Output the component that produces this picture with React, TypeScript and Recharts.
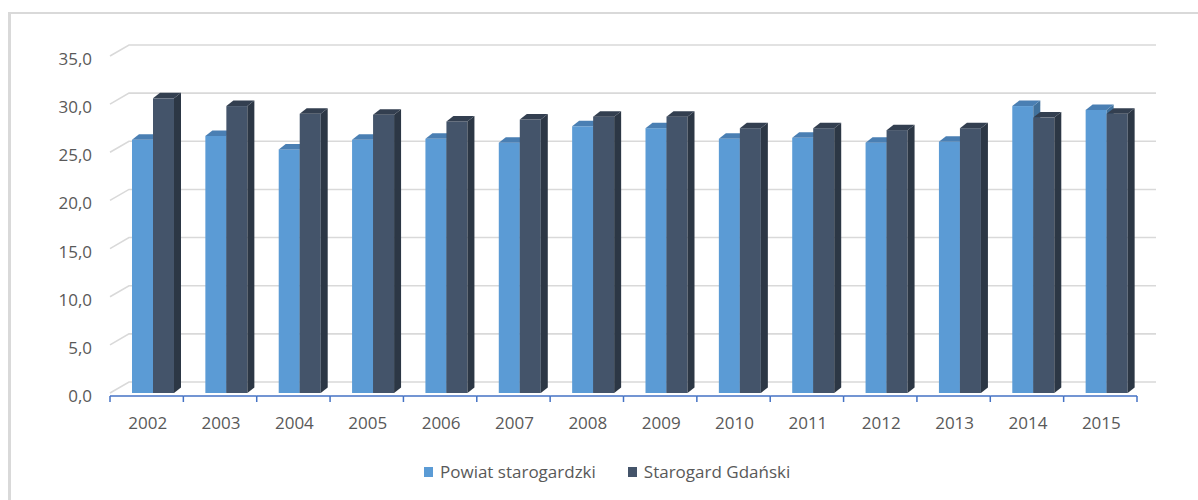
import React from 'react';
import { BarChart, Bar, XAxis, YAxis, CartesianGrid } from 'recharts';

const years = ['2002', '2003', '2004', '2005', '2006', '2007', '2008', '2009', '2010', '2011', '2012', '2013', '2014', '2015'];
const powiat = [26.3, 26.7, 25.3, 26.3, 26.4, 26.0, 27.7, 27.5, 26.4, 26.5, 26.0, 26.1, 29.8, 29.4];
const starogard = [30.6, 29.8, 29.0, 28.9, 28.2, 28.4, 28.7, 28.7, 27.5, 27.5, 27.3, 27.5, 28.6, 29.0];
const yTicks = [0, 5, 10, 15, 20, 25, 30, 35];
const seriesNames = ['Powiat starogardzki', 'Starogard Gdański'];

const data = years.map((y, i) => ({ year: y, powiat: powiat[i], starogard: starogard[i] }));

const W = 1198;
const H = 500;
const M_TOP = 56;
const Y_W = 110;
const M_RIGHT = 61;
const X_H = 107;
const PLOT_LEFT = Y_W;
const PLOT_RIGHT = W - M_RIGHT;
const PLOT_BOTTOM = H - X_H;
const BW = (PLOT_RIGHT - PLOT_LEFT) / years.length;
const WALL_DX = 19;
const WALL_DY = 11;
const BAR_DX = 7;
const BAR_DY = 5.5;
const SHIFT = 6;
const FONT = '"Open Sans", sans-serif';
const TEXT = '#595959';

const COLORS = [
  { front: '#5B9BD5', side: '#41719C', top: '#4A7FB3' },
  { front: '#44546A', side: '#2C3745', top: '#333F50' },
];

const make3D = (c: { front: string; side: string; top: string }) => (props: any) => {
  const { x, y, width, height } = props;
  if (width == null || height == null) return <g />;
  const x0 = x + SHIFT;
  const x1 = x0 + width;
  const yb = y + height;
  return (
    <g>
      <rect x={x0} y={y} width={width} height={height} fill={c.front} />
      <polygon
        points={`${x1},${y} ${x1 + BAR_DX},${y - BAR_DY} ${x1 + BAR_DX},${yb - BAR_DY} ${x1},${yb}`}
        fill={c.side}
      />
      <polygon
        points={`${x0},${y} ${x0 + BAR_DX},${y - BAR_DY} ${x1 + BAR_DX},${y - BAR_DY} ${x1},${y}`}
        fill={c.top}
      />
    </g>
  );
};

const gridLine = (p: any) => {
  const { x1, x2, y1 } = p;
  return (
    <path
      key={p.key}
      d={`M${x1},${y1} L${x1 + WALL_DX},${y1 - WALL_DY} L${x2 + WALL_DX},${y1 - WALL_DY}`}
      stroke="#D9D9D9"
      strokeWidth={1.6}
      fill="none"
    />
  );
};

const XTick = (props: any) => {
  const { x, payload, index } = props;
  const ya = PLOT_BOTTOM + 3;
  return (
    <g>
      <line x1={x - BW / 2} x2={x + BW / 2} y1={ya} y2={ya} stroke="#4472C4" strokeWidth={1.5} />
      <line x1={x - BW / 2} x2={x - BW / 2} y1={ya} y2={ya + 6} stroke="#4472C4" strokeWidth={1.5} />
      {index === years.length - 1 && (
        <line x1={x + BW / 2} x2={x + BW / 2} y1={ya} y2={ya + 6} stroke="#4472C4" strokeWidth={1.5} />
      )}
      <text x={x + 1} y={PLOT_BOTTOM + 30} dy="0.35em" textAnchor="middle" fill={TEXT} fontSize={17} fontFamily={FONT}>
        {payload.value}
      </text>
    </g>
  );
};

const YTick = (props: any) => {
  const { y, payload } = props;
  return (
    <text x={PLOT_LEFT - 18} y={y + 3} dy="0.35em" textAnchor="end" fill={TEXT} fontSize={17} fontFamily={FONT}>
      {payload.value.toFixed(1).replace('.', ',')}
    </text>
  );
};

export default function App() {
  return (
    <div style={{ position: 'absolute', left: 0, top: 0, width: W, height: H, background: '#fff', overflow: 'hidden', fontFamily: FONT }}>
      <div style={{ position: 'absolute', left: 8, top: 12, width: W - 8, height: 1.5, background: '#D9D9D9' }} />
      <div style={{ position: 'absolute', left: 8, top: 12, width: 3, height: H - 12, background: '#D9D9D9' }} />
      <div style={{ position: 'absolute', left: 0, top: 0 }}>
        <BarChart
          width={W}
          height={H}
          data={data}
          margin={{ top: M_TOP, right: M_RIGHT, left: 0, bottom: 0 }}
          barGap={0}
          barSize={21}
        >
          <CartesianGrid vertical={false} horizontal={gridLine} />
          <XAxis dataKey="year" height={X_H} axisLine={false} tickLine={false} tick={(p: any) => <XTick {...p} />} interval={0} />
          <YAxis
            width={Y_W}
            domain={[0, 35]}
            ticks={yTicks}
            axisLine={false}
            tickLine={false}
            tickSize={0}
            tick={(p: any) => <YTick {...p} />}
          />
          <Bar dataKey="powiat" name={seriesNames[0]} fill={COLORS[0].front} shape={make3D(COLORS[0])} isAnimationActive={false} />
          <Bar dataKey="starogard" name={seriesNames[1]} fill={COLORS[1].front} shape={make3D(COLORS[1])} isAnimationActive={false} />
        </BarChart>
      </div>
      <div
        style={{
          position: 'absolute',
          left: 424,
          top: 461,
          display: 'flex',
          alignItems: 'center',
          fontSize: 17,
          color: TEXT,
          whiteSpace: 'nowrap',
          lineHeight: '22px',
        }}
      >
        {seriesNames.map((n, i) => (
          <div key={n} style={{ display: 'flex', alignItems: 'center', marginRight: i === 0 ? 32 : 0 }}>
            <span style={{ display: 'inline-block', width: 9, height: 10, background: COLORS[i].front, marginRight: 7 }} />
            <span>{n}</span>
          </div>
        ))}
      </div>
    </div>
  );
}
